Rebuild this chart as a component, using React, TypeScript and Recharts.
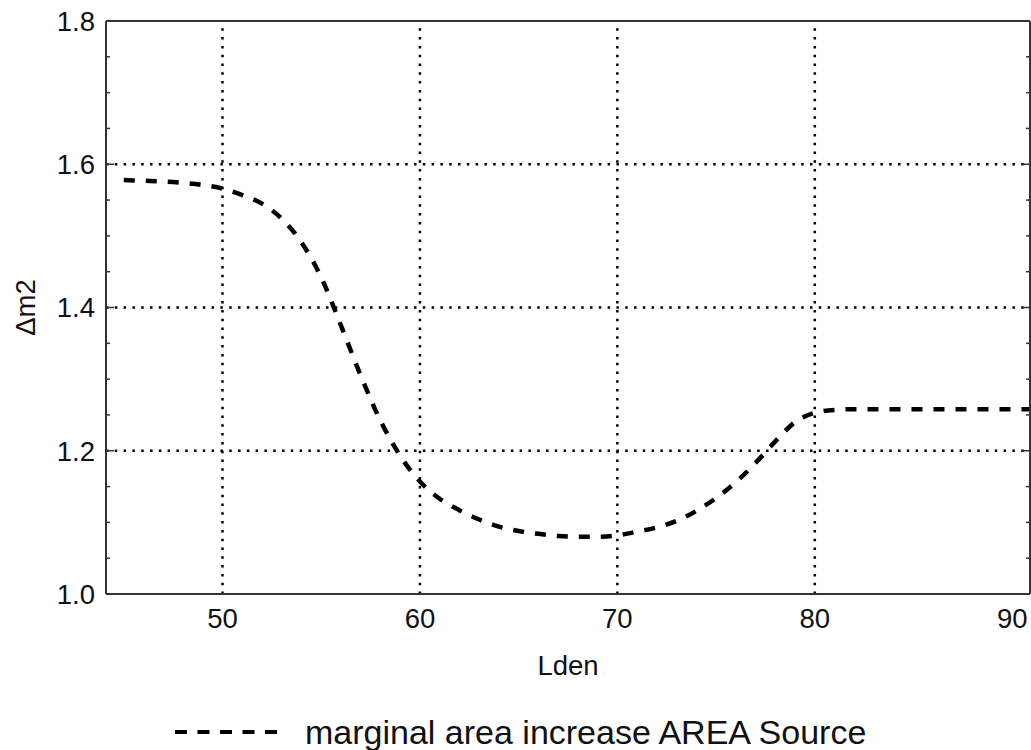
import { Legend, Line, LineChart, ReferenceLine, XAxis, YAxis } from "recharts";

const lden = [
  45, 46, 47, 48, 49, 50, 51, 52, 53, 54, 55, 56, 57, 58, 59, 60, 61, 62, 63, 64, 65, 66, 67, 68,
  69, 70, 71, 72, 73, 74, 75, 76, 77, 78, 79, 80, 81, 82, 83, 84, 85, 86, 87, 88, 89, 90, 91,
];
const deltaM2 = [
  1.578, 1.577, 1.576, 1.574, 1.571, 1.566, 1.557, 1.545, 1.524, 1.491, 1.442, 1.375, 1.305,
  1.242, 1.193, 1.157, 1.133, 1.117, 1.104, 1.094, 1.088, 1.084, 1.081, 1.08, 1.08, 1.082, 1.087,
  1.093, 1.102, 1.116, 1.134, 1.156, 1.183, 1.213, 1.24, 1.253, 1.257, 1.258, 1.258, 1.258,
  1.258, 1.258, 1.258, 1.258, 1.258, 1.258, 1.258,
];

const xTicks = [50, 60, 70, 80, 90];
const yTicks = [1.0, 1.2, 1.4, 1.6, 1.8];
const xMinorTicks = [
  46, 48, 50, 52, 54, 56, 58, 60, 62, 64, 66, 68, 70, 72, 74, 76, 78, 80, 82, 84, 86, 88, 90,
];
const yMinorTicks = [
  1.05, 1.1, 1.15, 1.2, 1.25, 1.3, 1.35, 1.4, 1.45, 1.5, 1.55, 1.6, 1.65, 1.7, 1.75,
];
const gridX = [50, 60, 70, 80];
const gridY = [1.2, 1.4, 1.6];
const seriesName = "marginal area increase AREA Source";

const data = lden.map((x, i) => ({ lden: x, dm2: deltaM2[i] }));

const font = "'Liberation Sans', Arial, sans-serif";
const xDomain = [44.1, 90.9];
const yDomain = [1.0, 1.8];
const frame = { stroke: "#333", strokeWidth: 2 };
const gridStyle = { stroke: "#000", strokeWidth: 2.5, strokeDasharray: "2.5 6.3" };
const labelStyle = { fontSize: 27.5, fontFamily: font, fill: "#111" };

const isMajor = (v: number, majors: number[]) => majors.some((m) => Math.abs(m - v) < 1e-6);

// draws a small tick mark pointing into the plot from the frame
function inwardTick(side: "top" | "bottom" | "left" | "right", majors: number[]) {
  return (props: any) => {
    const { x, y, payload } = props;
    const len = isMajor(payload.value, majors) ? 8 : 4;
    let x2 = x;
    let y2 = y;
    if (side === "bottom") y2 = y - len;
    if (side === "top") y2 = y + len;
    if (side === "left") x2 = x + len;
    if (side === "right") x2 = x - len;
    return <line x1={x} y1={y} x2={x2} y2={y2} stroke="#333" strokeWidth={1.5} />;
  };
}

export default function App() {
  return (
    <div style={{ position: "absolute", left: 0, top: 0, background: "#fff" }}>
      <LineChart
        width={1031}
        height={750}
        data={data}
        margin={{ top: 21, right: 1, left: 0, bottom: 0 }}
      >
        <XAxis
          xAxisId="main"
          dataKey="lden"
          type="number"
          domain={xDomain}
          allowDataOverflow
          ticks={xTicks}
          interval={0}
          height={156}
          tickLine={false}
          tickSize={0}
          tickMargin={14}
          axisLine={frame}
          tick={labelStyle}
          label={{ value: "Lden", position: "insideTop", offset: 61, style: labelStyle }}
        />
        <XAxis
          xAxisId="bottomTicks"
          type="number"
          domain={xDomain}
          allowDataOverflow
          orientation="bottom"
          mirror
          height={1}
          ticks={xMinorTicks}
          interval={0}
          tickLine={false}
          tickSize={0}
          tickMargin={0}
          axisLine={false}
          tick={inwardTick("bottom", xTicks)}
        />
        <XAxis
          xAxisId="top"
          type="number"
          domain={xDomain}
          allowDataOverflow
          orientation="top"
          mirror
          height={1}
          ticks={xMinorTicks}
          interval={0}
          tickLine={false}
          tickSize={0}
          tickMargin={0}
          axisLine={frame}
          tick={inwardTick("top", xTicks)}
        />
        <YAxis
          yAxisId="main"
          type="number"
          domain={yDomain}
          allowDataOverflow
          ticks={yTicks}
          interval={0}
          width={106}
          tickLine={false}
          tickSize={0}
          tickMargin={11}
          axisLine={frame}
          tickFormatter={(v: number) => v.toFixed(1)}
          tick={labelStyle}
          label={{
            value: "Δm2",
            angle: -90,
            position: "insideLeft",
            offset: 25,
            style: { ...labelStyle, textAnchor: "middle" },
          }}
        />
        <YAxis
          yAxisId="leftTicks"
          type="number"
          domain={yDomain}
          allowDataOverflow
          orientation="left"
          mirror
          width={1}
          ticks={yMinorTicks}
          interval={0}
          tickLine={false}
          tickSize={0}
          tickMargin={0}
          axisLine={false}
          tick={inwardTick("left", yTicks)}
        />
        <YAxis
          yAxisId="right"
          type="number"
          domain={yDomain}
          allowDataOverflow
          orientation="right"
          mirror
          width={1}
          ticks={yMinorTicks}
          interval={0}
          tickLine={false}
          tickSize={0}
          tickMargin={0}
          axisLine={frame}
          tick={inwardTick("right", yTicks)}
        />

        {gridX.map((v) => (
          <ReferenceLine key={`gx${v}`} x={v} xAxisId="main" yAxisId="main" {...gridStyle} />
        ))}
        {gridY.map((v) => (
          <ReferenceLine key={`gy${v}`} y={v} xAxisId="main" yAxisId="main" {...gridStyle} />
        ))}

        <Line
          xAxisId="main"
          yAxisId="main"
          dataKey="dm2"
          name={seriesName}
          type="monotone"
          stroke="#000"
          strokeWidth={4.5}
          strokeDasharray="11 11"
          dot={false}
          activeDot={false}
          isAnimationActive={false}
        />

        <Legend
          verticalAlign="middle"
          align="center"
          wrapperStyle={{ top: 712, left: 175, width: "auto", height: "auto" }}
          content={({ payload }: any) => (
            <div>
              {(payload || []).map((entry: any) => (
                <div
                  key={entry.value}
                  style={{
                    display: "flex",
                    alignItems: "center",
                    fontFamily: font,
                    fontSize: 34,
                    lineHeight: "40px",
                    color: "#111",
                    whiteSpace: "nowrap",
                  }}
                >
                  <svg width={102} height={10}>
                    <line
                      x1={0}
                      y1={5}
                      x2={102}
                      y2={5}
                      stroke="#000"
                      strokeWidth={4}
                      strokeDasharray="12 10.5"
                    />
                  </svg>
                  <span style={{ marginLeft: 28 }}>{entry.value}</span>
                </div>
              ))}
            </div>
          )}
        />
      </LineChart>
    </div>
  );
}
